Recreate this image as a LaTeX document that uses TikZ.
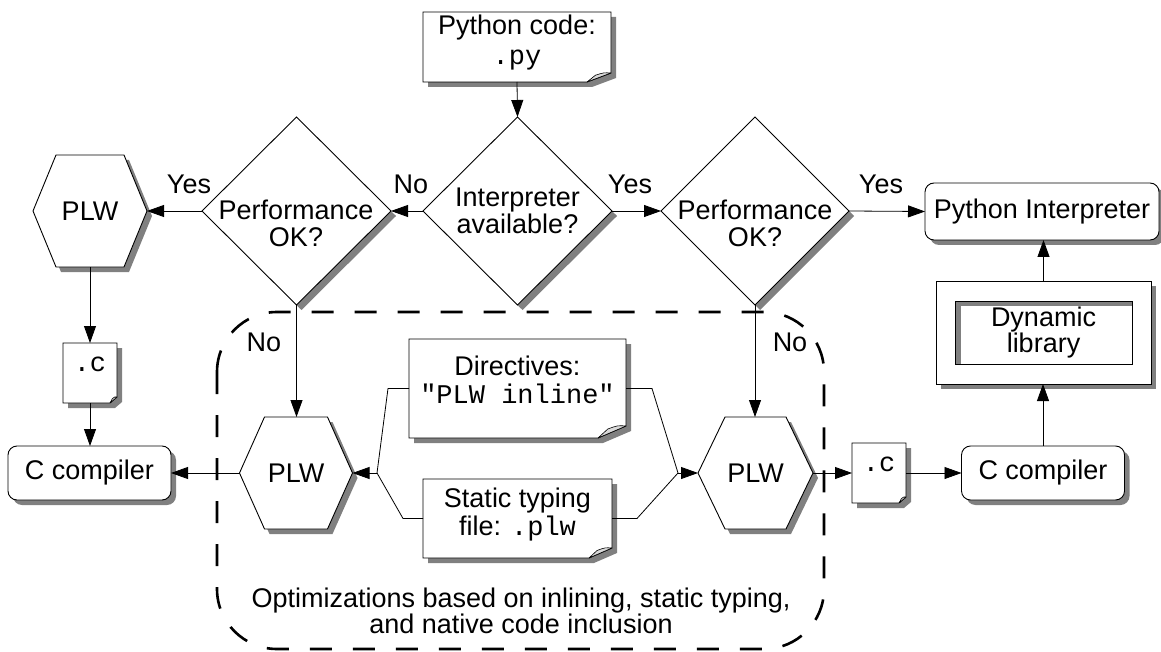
\documentclass[tikz,border=0pt]{standalone}
\usepackage{fontspec}
\setmainfont{Liberation Sans}
\setmonofont{Liberation Mono}
\usetikzlibrary{calc,arrows.meta}
\pgfdeclarelayer{shapes}
\pgfsetlayers{shapes,main}
\definecolor{shadowgray}{gray}{0.5}
\definecolor{foldgray}{gray}{0.85}
\tikzset{
  nbox/.style={shape=rectangle, draw=none, inner sep=0pt, outer sep=0pt, align=center, font=\fontsize{27}{27}\selectfont},
  txt/.style={inner sep=0pt, outer sep=0pt, align=center, font=\fontsize{27}{28}\selectfont},
  shapeline/.style={draw=black, fill=white, line width=0.9pt, line join=miter},
  conn/.style={line width=0.8pt, -{Triangle[length=17pt,width=12pt]}},
  thinline/.style={line width=0.8pt},
  regionline/.style={line width=2.6pt, dash pattern=on 22pt off 21pt, rounded corners=60pt},
}
\newcommand\DocShape[3]{%
\begin{pgfonlayer}{shapes}
\fill[shadowgray] ($(#1.north west)+(5,5)$) -- ($(#1.north east)+(5,5)$) -- ($(#1.south east)+(5,5-#3)$) -- ($(#1.south east)+(5-#2,5)$) -- ($(#1.south west)+(5,5)$) -- cycle;
\draw[shapeline] (#1.north west) -- (#1.north east) -- ($(#1.south east)+(0,-#3)$) -- ($(#1.south east)+(-#2,0)$) -- (#1.south west) -- cycle;
\draw[fill=foldgray, line width=0.6pt, line join=round] ($(#1.south east)+(0,-#3)$) -- ($(#1.south east)+(-#2,0)$) -- ($(#1.south east)+(-0.65*#2,-0.75*#3)$) .. controls ($(#1.south east)+(-0.3*#2,-1.05*#3)$) .. ($(#1.south east)+(0,-#3)$) -- cycle;
\end{pgfonlayer}}
\newcommand\HexShape[2]{%
\begin{pgfonlayer}{shapes}
\fill[shadowgray] ($(#1.west)+(5,5)$) -- ($(#1.north west)+(#2+5,5)$) -- ($(#1.north east)+(5-#2,5)$) -- ($(#1.east)+(5,5)$) -- ($(#1.south east)+(5-#2,5)$) -- ($(#1.south west)+(#2+5,5)$) -- cycle;
\draw[shapeline] (#1.west) -- ($(#1.north west)+(#2,0)$) -- ($(#1.north east)+(-#2,0)$) -- (#1.east) -- ($(#1.south east)+(-#2,0)$) -- ($(#1.south west)+(#2,0)$) -- cycle;
\end{pgfonlayer}}
\newcommand\DiaShape[1]{%
\begin{pgfonlayer}{shapes}
\fill[shadowgray] ($(#1.north)+(5,5)$) -- ($(#1.east)+(5,5)$) -- ($(#1.south)+(5,5)$) -- ($(#1.west)+(5,5)$) -- cycle;
\draw[shapeline] (#1.north) -- (#1.east) -- (#1.south) -- (#1.west) -- cycle;
\end{pgfonlayer}}
\newcommand\RoundShape[1]{%
\begin{pgfonlayer}{shapes}
\fill[shadowgray, rounded corners=9pt] ($(#1.north west)+(5,5)$) rectangle ($(#1.south east)+(5,5)$);
\draw[shapeline, rounded corners=9pt] (#1.north west) rectangle (#1.south east);
\end{pgfonlayer}}
\begin{document}
\begin{tikzpicture}[x=1pt,y=-1pt]
\useasboundingbox (0,0) rectangle (1161,652);

% nodes
\node[nbox, minimum width=188, minimum height=70] (py) at (517,47) {};
\node[txt, font=\fontsize{27}{30}\selectfont] (pyT) at (517,43) {Python code:\\\texttt{.py}};
\DocShape{py}{24}{9}

\node[nbox, minimum width=189, minimum height=188] (interp) at (517.5,211) {Interpreter\\available?};
\DiaShape{interp}
\node[nbox, minimum width=189, minimum height=188] (perfL) at (296.5,211) {};
\node[txt, font=\fontsize{27}{27}\selectfont] (perfLT) at (296,223) {Performance\\OK?};
\DiaShape{perfL}
\node[nbox, minimum width=188, minimum height=188] (perfR) at (755,211) {};
\node[txt, font=\fontsize{27}{27}\selectfont] (perfRT) at (755,223) {Performance\\OK?};
\DiaShape{perfR}

\node[nbox, minimum width=114, minimum height=112] (plwL) at (90,211) {PLW};
\HexShape{plwL}{23}
\node[nbox, minimum width=234, minimum height=57] (pyint) at (1042,211.5) {Python Interpreter};
\RoundShape{pyint}

\node[nbox, minimum width=54, minimum height=60] (cL) at (90,373) {};
\node[txt] (cLT) at (90,364) {\texttt{.c}};
\DocShape{cL}{7}{6}
\node[nbox, minimum width=163, minimum height=54] (ccL) at (89.5,473) {C compiler};
\RoundShape{ccL}

\node[nbox, minimum width=113, minimum height=112] (plwM) at (296,473) {PLW};
\HexShape{plwM}{25}
\node[nbox, minimum width=115, minimum height=112] (plwN) at (755.5,473) {PLW};
\HexShape{plwN}{27}

\node[nbox, minimum width=217, minimum height=99] (dir) at (517.5,388.5) {};
\node[txt] (dirT) at (517.5,380) {Directives:\\\texttt{"PLW inline"}};
\DocShape{dir}{28}{12}
\node[nbox, minimum width=189, minimum height=79] (st) at (517.5,518.5) {};
\node[txt] (stT) at (517.5,514.5) {Static typing\\file: \texttt{.plw}};
\DocShape{st}{23}{10}

\node[nbox, minimum width=54, minimum height=60] (cR) at (879,473) {};
\node[txt] (cRT) at (879,464) {\texttt{.c}};
\DocShape{cR}{7}{6}
\node[nbox, minimum width=163, minimum height=54] (ccR) at (1043,473) {C compiler};
\RoundShape{ccR}

\node[nbox, minimum width=215, minimum height=103, font=\fontsize{27}{26}\selectfont] (dyn) at (1043.5,332.5) {Dynamic\\library};
\begin{pgfonlayer}{shapes}
\fill[shadowgray] ($(dyn.north west)+(5,5)$) rectangle ($(dyn.south east)+(5,5)$);
\draw[shapeline] (dyn.north west) rectangle (dyn.south east);
\coordinate (inNW) at ($(dyn.north west)+(19,20)$);
\coordinate (inSE) at ($(dyn.south east)+(-19,-20)$);
\fill[white] (inNW) rectangle (inSE);
\fill[shadowgray] (inNW) rectangle ($(inNW -| inSE)+(0,5)$);
\fill[shadowgray] (inNW) rectangle ($(inNW |- inSE)+(6,0)$);
\draw[line width=0.9pt] (inNW) rectangle (inSE);
\end{pgfonlayer}

% region
\node[txt, font=\fontsize{27}{25}\selectfont] (opt) at (521,611) {Optimizations based on inlining, static typing,\\and native code inclusion};
\draw[regionline] (217,312) rectangle (824,649);

% labels
\node[txt] (lyes1) at (189,184) {Yes};
\node[txt] (lno1) at (411,184) {No};
\node[txt] (lyes2) at (630,184) {Yes};
\node[txt] (lyes3) at (881,184) {Yes};
\node[txt] (lno2) at (264,342) {No};
\node[txt] (lno3) at (790,342) {No};

% connectors
\draw[conn] (py.south) -- (interp.north);
\draw[conn] (interp.west) -- (perfL.east);
\draw[conn] (interp.east) -- (perfR.west);
\draw[conn] (perfL.west) -- (plwL.east);
\draw[conn] (perfR.east) -- (pyint.west);
\draw[conn] (perfL.south) -- (perfL.south |- plwM.north);
\draw[conn] (perfR.south) -- (perfR.south |- plwN.north);
\draw[conn] (plwL.south) -- (plwL.south |- cL.north);
\draw[conn] (cL.south) -- (cL.south |- ccL.north);
\draw[conn] (plwM.west) -- (ccL.east);
\draw[conn] (plwN.east) -- (cR.west);
\draw[conn] (cR.east) -- (ccR.west);
\draw[conn] (ccR.north) -- (ccR.north |- dyn.south);
\draw[conn] (dyn.north) -- (dyn.north |- pyint.south);

\coordinate (mL) at (377,473);
\coordinate (mR) at (678,473);
\draw[thinline] (dir.west) -- ++(-21,0) -- (mL);
\draw[thinline] (st.west) -- ++(-20,0) -- (mL);
\draw[thinline] (dir.east) -- ++(26,0) -- (mR);
\draw[thinline] (st.east) -- ++(25,0) -- (mR);
\draw[conn] (mL) -- (plwM.east);
\draw[conn] (mR) -- (plwN.west);
\end{tikzpicture}
\end{document}
